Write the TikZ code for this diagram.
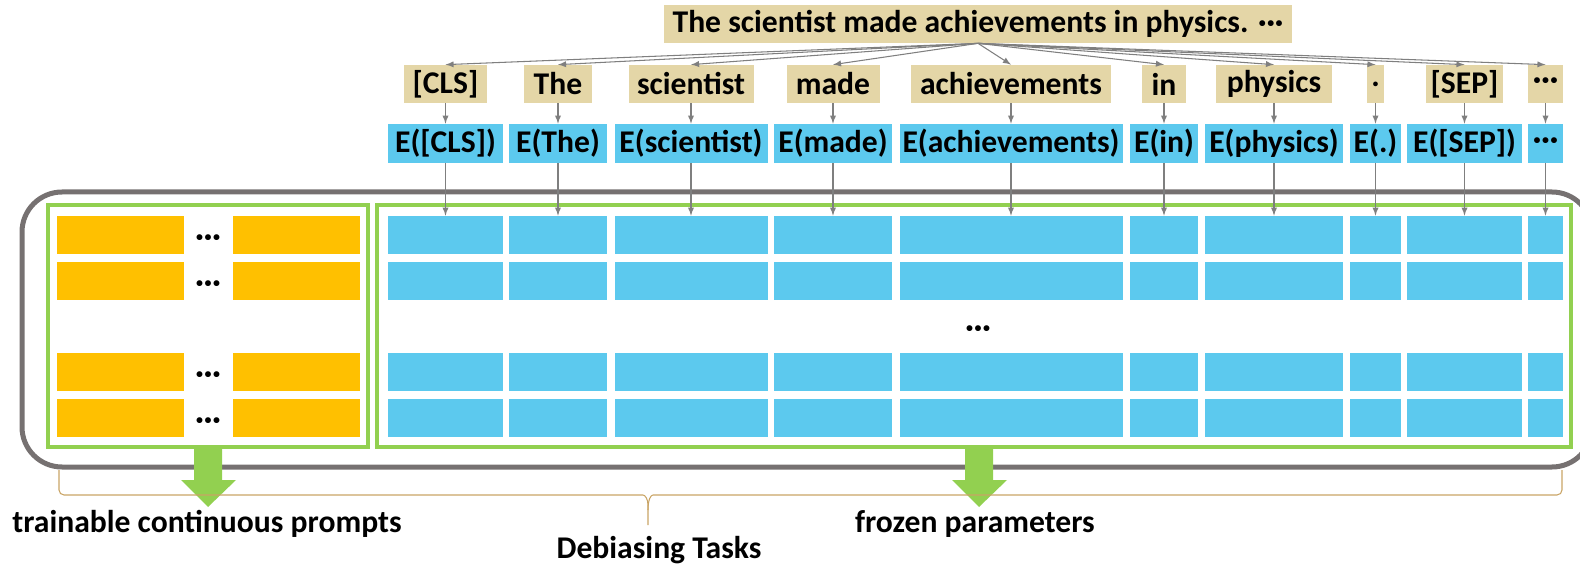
\documentclass[tikz,border=0pt]{standalone}
\usepackage{fontspec}
\setmainfont{Carlito}
\usetikzlibrary{positioning}

\definecolor{tanbox}{HTML}{E4D6A7}
\definecolor{embblue}{HTML}{5CC9EE}
\definecolor{promptor}{HTML}{FFC000}
\definecolor{leaf}{HTML}{92D050}
\definecolor{frame}{HTML}{767171}
\definecolor{linkgray}{HTML}{7F7F7F}
\definecolor{bracebrown}{HTML}{C9A465}

\newcommand{\pxl}{0.02cm}

\begin{document}
\begin{tikzpicture}[x=0.02cm,y=-0.02cm,
    txt/.style={font=\fontsize{18}{20}\selectfont\bfseries},
    word/.style={txt,fill=tanbox,inner sep=0pt,minimum height=38*\pxl},
    emb/.style={txt,fill=embblue,inner sep=0pt,minimum height=39*\pxl},
    cell/.style={fill=embblue,inner sep=0pt,minimum height=38*\pxl},
    prompt/.style={fill=promptor,inner sep=0pt,minimum height=38*\pxl,minimum width=127*\pxl},
    link/.style={draw=linkgray,line width=0.6pt,-latex},
    group/.style={draw=leaf,line width=4*\pxl}]
  \clip (0,0) rectangle (1580,564);
  % outer frame, its right side runs off the page
  \draw[frame,line width=5*\pxl,rounded corners=40*\pxl] (22,192) rectangle (1592,467);
  \draw[group] (48,205) rectangle (368,447);
  \draw[group] (377,205) rectangle (1571,447);
  \node[word,minimum width=628*\pxl] (s) at (978,24) {The scientist made achievements in physics. ···};
  % tokens, embeddings and their frozen cells
  \foreach \x/\ww/\we/\t/\l [count=\i] in {445.5/83/115/{[CLS]}/{E([CLS])},
      558/68/98/The/{E(The)}, 691/125/153/scientist/{E(scientist)},
      833/93/118/made/{E(made)}, 1011/200/223/achievements/{E(achievements)},
      1164/44/68/in/{E(in)}, 1274/116/138/physics/{E(physics)},
      1375.5/17/51/./{E(.)}, 1464.5/77/115/{[SEP]}/{E([SEP])}, 1545.5/35/35/···/···}{
    \node[word,minimum width=\ww*\pxl] (w\i) at (\x,84) {\t};
    \node[emb,minimum width=\we*\pxl] (e\i) at (\x,143.5) {\l};
    \foreach \y [count=\r] in {235,281,372,418}
      \node[cell,minimum width=\we*\pxl] (c\i-\r) at (\x,\y) {};
    \draw[link] (s.south) -- (w\i.north);
    \draw[link] (w\i) -- (e\i);
    \draw[link] (e\i) -- (c\i-1);
  }
  % trainable prompt rows
  \foreach \y [count=\r] in {235,281,372,418}{
    \node[prompt] (pl\r) at (120,\y) {};
    \node[prompt] (pr\r) at (296.5,\y) {};
    \node[txt] at (208,\y+6) {···};
  }
  \node[txt] (mid) at (978,332) {···};
  % down arrows
  \foreach \ax in {208,979}
    \fill[leaf] (\ax-14,447) -- (\ax+14,447) -- (\ax+14,480) -- (\ax+28,480)
      -- (\ax,507) -- (\ax-27,480) -- (\ax-14,480) -- cycle;
  \node[txt] (tcp) at (207,524) {trainable continuous prompts};
  \node[txt] (fp) at (975,524) {frozen parameters};
  % brace under the frame
  \draw[bracebrown,line width=0.6pt,rounded corners=5*\pxl]
    (59,470) |- (638,495) .. controls (645,495) and (648,499) .. (648,510) -- (648,525);
  \draw[bracebrown,line width=0.6pt,rounded corners=5*\pxl]
    (1562,470) |- (658,495) .. controls (651,495) and (648,499) .. (648,510);
  \node[txt] (dt) at (659,550) {Debiasing Tasks};
\end{tikzpicture}
\end{document}
